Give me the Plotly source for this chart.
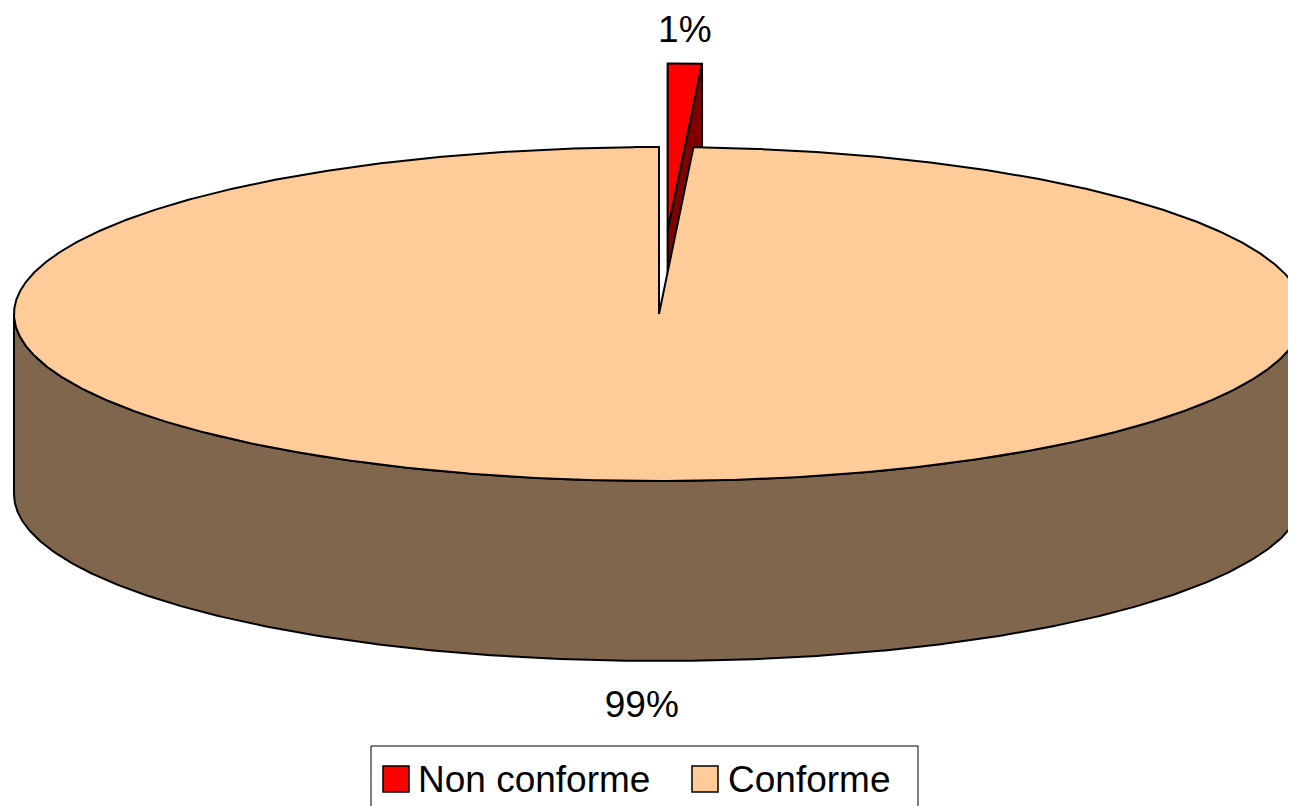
import numpy as np
import plotly.graph_objects as go

# ---- data ----
labels = ["Non conforme", "Conforme"]
values = [0.85, 99.15]
explode = [0.5, 0.0]
top_colors = ["#FF0000", "#FFCC99"]
side_colors = ["#800000", "#80664D"]

# ---- layout / style constants (pixel units of the browser window) ----
W, H = 1296, 806
PAGE_OFF = 8           # default body margin of the html page
CX, CY = 659, 314      # centre of top ellipse
RX, RY = 645, 167      # radii of top ellipse
DEPTH = 180            # pie thickness
FONT = "Liberation Sans, Arial, sans-serif"
LW = 2

total = float(sum(values))
angles = np.cumsum([0] + [v / total * 360.0 for v in values])


def pt(t, ox=0.0, oy=0.0, dz=0.0):
    r = np.radians(t)
    return CX + ox + RX * np.sin(r), CY + oy - RY * np.cos(r) + dz


fig = go.Figure()
slices = []
for i, lab in enumerate(labels):
    t0, t1 = angles[i], angles[i + 1]
    mid = (t0 + t1) / 2
    e = explode[i]
    ox = e * RX * np.sin(np.radians(mid))
    oy = -e * RY * np.cos(np.radians(mid))
    slices.append((i, t0, t1, mid, ox, oy))

# back slices first
order = sorted(slices, key=lambda s: -np.cos(np.radians(s[3])))
for i, t0, t1, mid, ox, oy in order:
    c0x, c0y = CX + ox, CY + oy
    if explode[i] > 0:
        for t, sign in ((t1, 1), (t0, -1)):
            facing = sign * np.sin(np.radians(t))
            if facing > 1e-6:
                rx, ry = pt(t, ox, oy)
                xs = [c0x, rx, rx, c0x, c0x]
                ys = [c0y, ry, ry + DEPTH, c0y + DEPTH, c0y]
                fig.add_trace(go.Scatter(x=xs, y=ys, mode="lines", fill="toself",
                                         fillcolor=side_colors[i],
                                         line=dict(color="black", width=LW),
                                         hoverinfo="skip", showlegend=False))
    # outer front wall
    a0, a1 = max(t0, 90.0), min(t1, 270.0)
    if a1 > a0:
        ts = np.linspace(a0, a1, 400)
        tx, ty = pt(ts, ox, oy)
        bx, by = pt(ts[::-1], ox, oy, DEPTH)
        xs = np.concatenate([tx, bx, tx[:1]])
        ys = np.concatenate([ty, by, ty[:1]])
        fig.add_trace(go.Scatter(x=xs, y=ys, mode="lines", fill="toself",
                                 fillcolor=side_colors[i],
                                 line=dict(color="black", width=LW),
                                 hoverinfo="skip", showlegend=False))
    # top face
    n = max(int((t1 - t0) * 3), 4)
    ts = np.linspace(t0, t1, n)
    tx, ty = pt(ts, ox, oy)
    xs = np.concatenate([[c0x], tx, [c0x]])
    ys = np.concatenate([[c0y], ty, [c0y]])
    fig.add_trace(go.Scatter(x=xs, y=ys, mode="lines", fill="toself",
                             fillcolor=top_colors[i],
                             line=dict(color="black", width=LW),
                             hoverinfo="skip", showlegend=False, name=labels[i]))

# percentage labels
lx, ly, lt = [], [], []
for i, t0, t1, mid, ox, oy in slices:
    rx, ry = pt(mid, ox, oy)
    if np.cos(np.radians(mid)) > 0:
        ly.append(ry - 31)
    else:
        ly.append(ry + DEPTH + 47)
    lx.append(rx)
    lt.append(f"{round(values[i] / total * 100):.0f}%")
fig.add_trace(go.Scatter(x=lx, y=ly, text=lt, mode="text",
                         textfont=dict(family=FONT, size=37, color="black"),
                         textposition="middle center", hoverinfo="skip",
                         cliponaxis=False, showlegend=False))

# legend (manual, to match the large square swatches)
LEG_BOX = (371, 746, 918, 830)
leg_sq_x = [383, 692]
leg_txt_x = [416, 726]
SQ = 26
LEG_CY = 779
shapes = [dict(type="rect", xref="x", yref="y", x0=LEG_BOX[0], y0=LEG_BOX[1],
               x1=LEG_BOX[2], y1=LEG_BOX[3], line=dict(color="black", width=1),
               fillcolor="white", layer="below")]
annotations = []
for i, lab in enumerate(labels):
    shapes.append(dict(type="rect", xref="x", yref="y", x0=leg_sq_x[i],
                       y0=LEG_CY - SQ / 2, x1=leg_sq_x[i] + SQ, y1=LEG_CY + SQ / 2,
                       line=dict(color="black", width=1.5), fillcolor=top_colors[i]))
    annotations.append(dict(x=leg_txt_x[i], y=LEG_CY, xref="x", yref="y", text=lab,
                            showarrow=False, xanchor="left", yanchor="middle",
                            font=dict(family=FONT, size=37, color="black")))

fig.update_layout(
    width=W, height=H,
    margin=dict(l=0, r=0, t=0, b=0),
    paper_bgcolor="white", plot_bgcolor="white",
    xaxis=dict(range=[PAGE_OFF, W + PAGE_OFF], visible=False, fixedrange=True),
    yaxis=dict(range=[H + PAGE_OFF, PAGE_OFF], visible=False, fixedrange=True),
    shapes=shapes, annotations=annotations,
    showlegend=False,
)
fig.write_html("out.html")
